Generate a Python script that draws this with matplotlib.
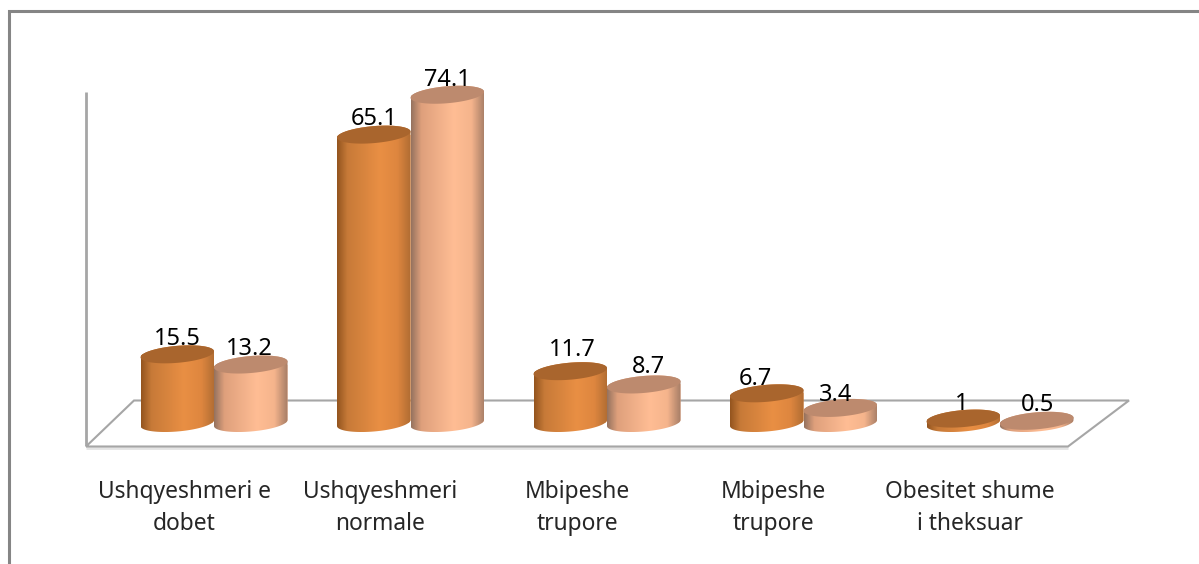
import matplotlib
matplotlib.use('Agg')
import matplotlib.pyplot as plt
import matplotlib.transforms as mtransforms
from matplotlib.colors import to_rgb
from matplotlib.patches import Polygon
import numpy as np

categorias = ['Ushqyeshmeri e\ndobet', 'Ushqyeshmeri\nnormale', 'Mbipeshe\ntrupore',
              'Mbipeshe\ntrupore', 'Obesitet shume\ni theksuar']
serie_1 = [15.5, 65.1, 11.7, 6.7, 1]
serie_2 = [13.2, 74.1, 8.7, 3.4, 0.5]
textos_1 = ['15.5', '65.1', '11.7', '6.7', '1']
textos_2 = ['13.2', '74.1', '8.7', '3.4', '0.5']

# ------------------------------ estilo ------------------------------
W, H = 1199, 564
x0_px, paso_px = 214, 196.5      # centro del primer grupo, distancia entre grupos
y0_px, esc_px = 423, 4.43        # base de las barras, pixeles por unidad
ancho = 73.5 / paso_px
radio_y = 8.5 / esc_px
incl = 3 / esc_px

cara_1 = ['#94551F', '#C77A38', '#E98F44', '#DE863F', '#B06C32']
cara_2 = ['#96735F', '#DFA07C', '#FFBD94', '#F5B48C', '#A67D66']
tapa_1 = '#A9652D'
tapa_2 = '#BD8A6E'
gris = '#A6A6A6'

# desplazamiento de las etiquetas en pixeles respecto a la tapa
dx_1, dy_1 = [0, 0, 2, -11, -2], [15, 16, 21, 14, 15]
dx_2, dy_2 = [-1, 0, 5, -5, 1], [16, 15, 17, 13, 16]
dx_cat = -30

plt.rcParams['font.family'] = ['Noto Sans', 'DejaVu Sans']

fig = plt.figure(figsize=(W / 100, H / 100), dpi=100)
ax = fig.add_axes([0, 0, 1, 1])
ax.axis('off')

# pixeles de la imagen, con y hacia abajo, para el marco y el piso
px = mtransforms.Affine2D().scale(1, -1).translate(0, H)


def linea(xs, ys, color=gris, lw=1.5, z=1):
    ax.plot(xs, ys, color=color, lw=lw, transform=px, zorder=z, clip_on=False,
            solid_capstyle='butt', solid_joinstyle='miter')


# marco exterior
linea([8.5, 8.5, W], [H, 10.5, 10.5], color='#858585', lw=2.2)

# piso y eje vertical
linea([86, 86], [92, 446], lw=2)
linea([86, 1068], [448, 448], color='#E4E4E4', lw=2)
linea([86, 1068, 1129, 134, 86], [446.5, 446.5, 400.5, 400.5, 446.5], lw=1.5)


def cilindro(x, valor, caras, tapa, z):
    a = ancho / 2
    t = np.linspace(0, np.pi, 80)
    top_x = x + a * np.cos(t)
    top_y = valor + radio_y * np.sin(t) + incl * np.cos(t)
    abajo_x = x + a * np.cos(t + np.pi)
    abajo_y = radio_y * np.sin(t + np.pi) + incl * np.cos(t + np.pi)

    cuerpo = Polygon(np.column_stack([np.r_[abajo_x, top_x], np.r_[abajo_y, top_y]]),
                     closed=True, facecolor='none', edgecolor='none', zorder=z)
    ax.add_patch(cuerpo)
    barra = ax.bar(x, valor, ancho, color=caras[2], zorder=z)[0]
    barra.set_clip_path(cuerpo)

    pos = np.array([0, 0.14, 0.58, 0.82, 1])
    colores = np.array([to_rgb(c) for c in caras])
    u = np.linspace(0, 1, 120)
    grad = np.stack([np.interp(u, pos, colores[:, i]) for i in range(3)], axis=-1)[None, :, :]
    im = ax.imshow(grad, extent=(x - a, x + a, abajo_y.min(), valor + radio_y + incl),
                   aspect='auto', zorder=z, interpolation='bilinear')
    im.set_clip_path(cuerpo)

    cap = np.column_stack([x + a * np.cos(2 * t), valor + radio_y * np.sin(2 * t) + incl * np.cos(2 * t)])
    ax.add_patch(Polygon(cap, closed=True, facecolor=tapa, edgecolor='none', zorder=z + 0.1))


for i in range(len(categorias)):
    x1 = i - ancho / 2
    x2 = i + ancho / 2
    cilindro(x1, serie_1[i], cara_1, tapa_1, 3 + i)
    cilindro(x2, serie_2[i], cara_2, tapa_2, 3.5 + i)

    ax.annotate(textos_1[i], (x1, serie_1[i]), xytext=(dx_1[i] * 0.72, dy_1[i] * 0.72),
                textcoords='offset points', ha='center', va='center', fontsize=17,
                color='black', zorder=20)
    ax.annotate(textos_2[i], (x2, serie_2[i]), xytext=(dx_2[i] * 0.72, dy_2[i] * 0.72),
                textcoords='offset points', ha='center', va='center', fontsize=17,
                color='black', zorder=20)

    ax.text(i + dx_cat / paso_px, (y0_px - 508) / esc_px, categorias[i], ha='center', va='center',
            fontsize=16.4, color='#262626', linespacing=1.4, zorder=20)

ax.set_xlim(-x0_px / paso_px, (W - x0_px) / paso_px)
ax.set_ylim((y0_px - H) / esc_px, y0_px / esc_px)

fig.savefig('out.png', dpi=100)
